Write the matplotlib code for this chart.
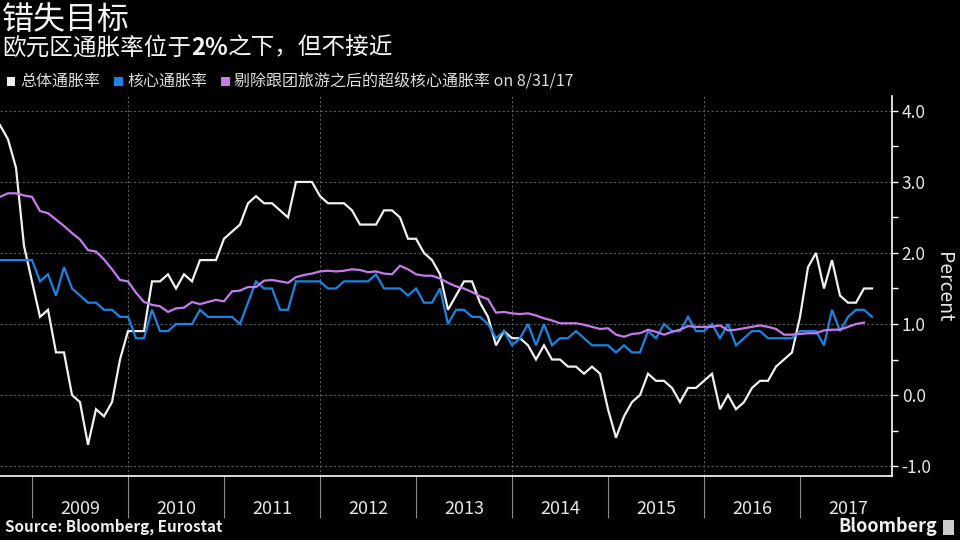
import matplotlib
matplotlib.use('Agg')
import matplotlib.pyplot as plt
import numpy as np
import pandas as pd
from matplotlib.patches import Rectangle
from matplotlib.ticker import FixedLocator, NullFormatter, FixedFormatter

plt.rcParams['font.family'] = ['Noto Sans CJK SC', 'DejaVu Sans']

# ---------------- data (monthly, Aug 2008 onward) ----------------
start_month = '2008-08'
headline = [3.8, 3.6, 3.2, 2.1, 1.6,
            1.1, 1.2, 0.6, 0.6, 0.0, -0.1, -0.7, -0.2, -0.3, -0.1, 0.5, 0.9,
            0.9, 0.9, 1.6, 1.6, 1.7, 1.5, 1.7, 1.6, 1.9, 1.9, 1.9, 2.2,
            2.3, 2.4, 2.7, 2.8, 2.7, 2.7, 2.6, 2.5, 3.0, 3.0, 3.0, 2.8,
            2.7, 2.7, 2.7, 2.6, 2.4, 2.4, 2.4, 2.6, 2.6, 2.5, 2.2, 2.2,
            2.0, 1.9, 1.7, 1.2, 1.4, 1.6, 1.6, 1.3, 1.1, 0.7, 0.9, 0.8,
            0.8, 0.7, 0.5, 0.7, 0.5, 0.5, 0.4, 0.4, 0.3, 0.4, 0.3, -0.2,
            -0.6, -0.3, -0.1, 0.0, 0.3, 0.2, 0.2, 0.1, -0.1, 0.1, 0.1, 0.2,
            0.3, -0.2, 0.0, -0.2, -0.1, 0.1, 0.2, 0.2, 0.4, 0.5, 0.6, 1.1,
            1.8, 2.0, 1.5, 1.9, 1.4, 1.3, 1.3, 1.5, 1.5]
core = [1.9, 1.9, 1.9, 1.9, 1.9,
        1.6, 1.7, 1.4, 1.8, 1.5, 1.4, 1.3, 1.3, 1.2, 1.2, 1.1, 1.1,
        0.8, 0.8, 1.2, 0.9, 0.9, 1.0, 1.0, 1.0, 1.2, 1.1, 1.1, 1.1,
        1.1, 1.0, 1.3, 1.6, 1.5, 1.5, 1.2, 1.2, 1.6, 1.6, 1.6, 1.6,
        1.5, 1.5, 1.6, 1.6, 1.6, 1.6, 1.7, 1.5, 1.5, 1.5, 1.4, 1.5,
        1.3, 1.3, 1.5, 1.0, 1.2, 1.2, 1.1, 1.1, 1.0, 0.8, 0.9, 0.7,
        0.8, 1.0, 0.7, 1.0, 0.7, 0.8, 0.8, 0.9, 0.8, 0.7, 0.7, 0.7,
        0.6, 0.7, 0.6, 0.6, 0.9, 0.8, 1.0, 0.9, 0.9, 1.1, 0.9, 0.9,
        1.0, 0.8, 1.0, 0.7, 0.8, 0.9, 0.9, 0.8, 0.8, 0.8, 0.8, 0.9,
        0.9, 0.9, 0.7, 1.2, 0.9, 1.1, 1.2, 1.2, 1.1]
supercore = [2.79, 2.84, 2.84, 2.81, 2.79,
             2.59, 2.56, 2.47, 2.38, 2.28, 2.19, 2.04, 2.02, 1.91, 1.77, 1.62, 1.60,
             1.44, 1.31, 1.27, 1.25, 1.17, 1.22, 1.23, 1.31, 1.28, 1.31, 1.34, 1.32,
             1.46, 1.47, 1.52, 1.52, 1.61, 1.62, 1.60, 1.58, 1.66, 1.69, 1.71, 1.74,
             1.75, 1.74, 1.75, 1.77, 1.76, 1.73, 1.74, 1.71, 1.70, 1.82, 1.77, 1.70,
             1.68, 1.68, 1.64, 1.58, 1.53, 1.50, 1.45, 1.39, 1.35, 1.16, 1.17, 1.15,
             1.14, 1.15, 1.12, 1.08, 1.05, 1.01, 1.01, 1.01, 0.99, 0.96, 0.93, 0.94,
             0.85, 0.82, 0.86, 0.87, 0.92, 0.89, 0.85, 0.89, 0.92, 0.97, 0.96, 0.96,
             0.96, 0.98, 0.91, 0.92, 0.94, 0.96, 0.98, 0.96, 0.93, 0.85, 0.85, 0.86,
             0.87, 0.87, 0.91, 0.92, 0.92, 0.96, 1.00, 1.02]

year_labels = [2009, 2010, 2011, 2012, 2013, 2014, 2015, 2016, 2017]
grid_years = [2010, 2012, 2014, 2016]
y_ticks = [-1.0, 0.0, 1.0, 2.0, 3.0, 4.0]
y_minor = [-0.5, 0.5, 1.5, 2.5, 3.5]
legend_labels = ['总体通胀率', '核心通胀率', '剔除跟团旅游之后的超级核心通胀率']
legend_suffix = ' on 8/31/17'
title = '错失目标'
subtitle_parts = [('欧元区通胀率位于', 'normal'), ('2%', 'bold'), ('之下，但不接近', 'normal')]
source = 'Source: Bloomberg, Eurostat'
series_colors = ['#f0f0f0', '#1a84e4', '#c57bee']


def month_end_years(n):
    p = pd.period_range(start_month, periods=n, freq='M')
    return np.asarray(p.year + p.month / 12.0, dtype=float)


W, H = 960, 540
fig = plt.figure(figsize=(W / 100, H / 100), dpi=100, facecolor='black')
ax = fig.add_axes([0, 64 / H, 892 / W, 380 / H])
ax.set_facecolor('black')

x0 = 2008 + 8 / 12
ax.set_xlim(x0, x0 + 892 / 96)
ax.set_ylim(-1.14, 4.21)

# grid
for yv in y_ticks:
    ax.axhline(yv, color='#5a5a5a', lw=0.8, ls=(0, (2, 2)), zorder=1)
for gx in grid_years:
    ax.axvline(gx, color='#5a5a5a', lw=0.8, ls=(0, (2, 2)), zorder=1)

# lines
for vals, col in zip([headline, core, supercore], series_colors):
    ax.plot(month_end_years(len(vals)), vals, color=col, lw=1.6,
            solid_joinstyle='miter', zorder=3)

# spines
for s in ['left', 'top']:
    ax.spines[s].set_visible(False)
ax.spines['right'].set_color('white')
ax.spines['bottom'].set_color('white')
ax.spines['right'].set_linewidth(1.2)
ax.spines['bottom'].set_linewidth(1.2)

# y axis on right
ax.yaxis.tick_right()
ax.yaxis.set_major_locator(FixedLocator(y_ticks))
ax.yaxis.set_major_formatter(FixedFormatter([f'{v:.1f}' for v in y_ticks]))
ax.yaxis.set_minor_locator(FixedLocator(y_minor))
ax.tick_params(axis='y', which='major', colors='white', labelcolor='#e6e6e6',
               labelsize=12.5, length=4, width=1, pad=3, direction='out')
ax.tick_params(axis='y', which='minor', colors='white', length=4, width=1, direction='out')
ax.tick_params(axis='y', which='both', left=False, labelleft=False, right=True, labelright=True)

# x axis: separators at year starts, labels mid-year
ax.xaxis.set_major_locator(FixedLocator(year_labels))
ax.xaxis.set_major_formatter(NullFormatter())
ax.xaxis.set_minor_locator(FixedLocator([y + 0.5 for y in year_labels]))
ax.xaxis.set_minor_formatter(FixedFormatter([str(y) for y in year_labels]))
ax.tick_params(axis='x', which='major', colors='#8a8a8a', length=30, width=0.8, direction='out')
ax.tick_params(axis='x', which='minor', length=0, pad=17, labelsize=13, labelcolor='#e6e6e6')

fig.text(943 / W, 1 - 287 / H, 'Percent', rotation=270, color='#e6e6e6',
         fontsize=14, ha='center', va='center')

# titles
fig.text(2 / W, 1 - 20 / H, title, color='#f4f4f4', fontsize=23, ha='left', va='center')
renderer = fig.canvas.get_renderer()
xpos = 2 / W
for txt, wt in subtitle_parts:
    t = fig.text(xpos, 1 - 48 / H, txt, color='#f4f4f4', fontsize=17, fontweight=wt,
                 ha='left', va='center')
    bb = t.get_window_extent(renderer)
    xpos += bb.width / W

# legend
lx = 7
for lab, col, i in zip(legend_labels, series_colors, range(3)):
    fig.patches.append(Rectangle((lx / W, 1 - 85.5 / H), 8.5 / W, 8.5 / H,
                                 transform=fig.transFigure, color=col, lw=0))
    text = lab + (legend_suffix if i == 2 else '')
    t = fig.text((lx + 13) / W, 1 - 81 / H, text, color='#dcdcdc', fontsize=11.5,
                 ha='left', va='center')
    bb = t.get_window_extent(renderer)
    lx = lx + 13 + bb.width + 14

# footer
fig.text(5 / W, 1 - 527 / H, source, color='#eeeeee', fontsize=11, fontweight='bold',
         ha='left', va='center')
fig.text(937 / W, 1 - 527 / H, 'Bloomberg', color='#eeeeee', fontsize=13, fontweight='bold',
         ha='right', va='center')
fig.patches.append(Rectangle((943 / W, 1 - 535 / H), 11 / W, 15 / H,
                             transform=fig.transFigure, color='#cccccc', lw=0))

fig.savefig('out.png', dpi=100, facecolor='black')
